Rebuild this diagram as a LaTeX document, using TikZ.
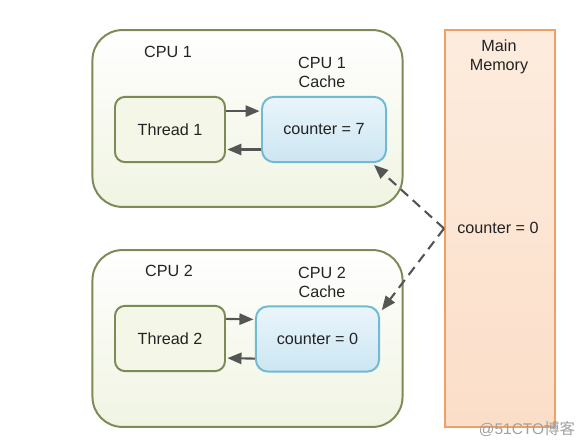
\documentclass[tikz,border=0pt]{standalone}
\usepackage{fontspec}
\setmainfont{Liberation Sans}
\newfontfamily\cjkfont{Noto Sans CJK SC}
\usetikzlibrary{arrows.meta}
\definecolor{cpuedge}{RGB}{124,138,86}
\definecolor{cpufill}{RGB}{240,244,226}
\definecolor{threadfill}{RGB}{244,246,232}
\definecolor{cacheedge}{RGB}{112,186,212}
\definecolor{cachetop}{RGB}{234,245,251}
\definecolor{cachebot}{RGB}{204,230,242}
\definecolor{memedge}{RGB}{240,160,100}
\definecolor{memtop}{RGB}{253,236,222}
\definecolor{membot}{RGB}{251,222,200}
\definecolor{linegray}{RGB}{85,85,85}
\definecolor{textgray}{RGB}{35,35,35}
\definecolor{wmgray}{RGB}{160,160,160}
\begin{document}
\begin{tikzpicture}[x=0.025cm,y=-0.025cm,
    font=\fontsize{11.5}{13.5}\selectfont,text=textgray,
    cpu/.style={draw=cpuedge,line width=1.4pt,rounded corners=0.75cm,top color=white,bottom color=cpufill,
        minimum width=7.75cm,minimum height=4.42cm},
    thread/.style={draw=cpuedge,line width=1.4pt,rounded corners=0.25cm,fill=threadfill,
        minimum width=2.75cm,minimum height=1.63cm},
    cache/.style={draw=cacheedge,line width=1.4pt,rounded corners=0.3cm,top color=cachetop,bottom color=cachebot,
        minimum width=3.1cm,minimum height=1.63cm},
    mem/.style={draw=memedge,line width=1.4pt,top color=memtop,bottom color=membot,
        minimum width=2.75cm,minimum height=9.92cm},
    flow/.style={draw=linegray,line width=1.5pt,-{Triangle[length=10pt,width=8pt]},shorten >=1pt},
    sync/.style={draw=linegray,line width=1.5pt,dash pattern=on 7pt off 4.5pt,
        -{Triangle[length=10pt,width=8pt]},shorten >=2pt}]
    \useasboundingbox (0,0) rectangle (587,446);
    % CPU 1
    \node[cpu] (cpu1) at (247.5,118.5) {};
    \node (cpu1lbl) at (168,52) {CPU 1};
    \node[thread] (t1) at (170,129.5) {Thread 1};
    \node[cache] (c1) at (324,129.5) {counter = 7};
    \node[align=center] (c1lbl) at (322,72.5) {CPU 1\\Cache};
    \draw[flow] ([yshift=0.46cm]t1.east) -- ([yshift=0.46cm]c1.west);
    \draw[flow] ([yshift=-0.5cm]c1.west) -- ([yshift=-0.5cm]t1.east);
    % CPU 2
    \node[cpu] (cpu2) at (247.5,338.5) {};
    \node (cpu2lbl) at (169,271) {CPU 2};
    \node[thread] (t2) at (170,338.5) {Thread 2};
    \node[cache,minimum width=3.08cm] (c2) at (317.5,339) {counter = 0};
    \node[align=center] (c2lbl) at (322,282) {CPU 2\\Cache};
    \draw[flow] ([yshift=0.49cm]t2.east) -- ([yshift=0.49cm]c2.west);
    \draw[flow] ([yshift=-0.49cm]c2.west) -- ([yshift=-0.49cm]t2.east);
    % main memory
    \node[mem] (mem) at (500,228.5) {};
    \node[align=center] (memlbl) at (499,57) {Main\\Memory};
    \node (mval) at (498,228) {counter = 0};
    \draw[sync] (mem.west) -- (c1.-35);
    \draw[sync] (mem.west) -- (c2.23);
    \node[text=wmgray,font=\fontsize{11}{13}\selectfont] (wm) at (527,429) {@51CTO\cjkfont 博客};
\end{tikzpicture}
\end{document}
